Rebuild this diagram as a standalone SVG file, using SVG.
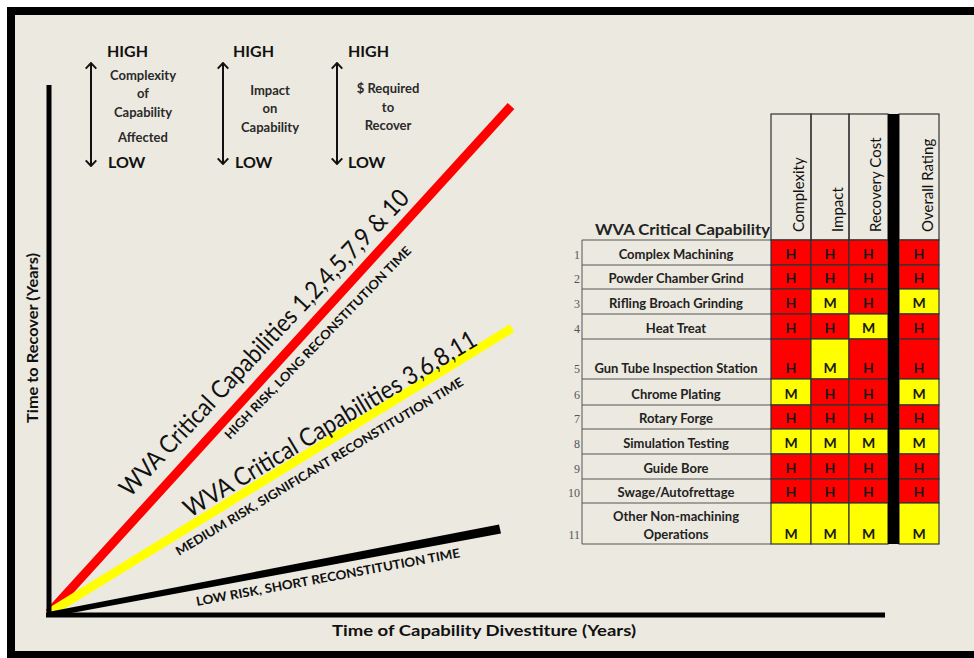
<svg xmlns="http://www.w3.org/2000/svg" width="974" height="658" viewBox="0 0 974 658">
<defs>
<marker id="chev" viewBox="0 0 6 10" refX="5.2" refY="5" markerWidth="8" markerHeight="12" markerUnits="userSpaceOnUse" orient="auto-start-reverse">
<path d="M0.5,0.6 L5.2,5 L0.5,9.4" fill="none" stroke="#111" stroke-width="1.6"/>
</marker>
<style>
.f{font-family:Lato,"Liberation Sans",sans-serif;}
.hl{font-family:Lato,"Liberation Sans",sans-serif;font-weight:bold;font-size:16px;fill:#111;}
.sm{font-family:Lato,"Liberation Sans",sans-serif;font-weight:bold;font-size:13px;fill:#2a2a2a;text-anchor:middle;}
.arr{stroke:#111;stroke-width:2;fill:none;marker-start:url(#chev);marker-end:url(#chev);}
.risk{font-family:Lato,"Liberation Sans",sans-serif;font-weight:bold;font-size:12.5px;fill:#111;}
.big{font-family:Lato,"Liberation Sans",sans-serif;font-size:25px;fill:#111;}
.lbl{font-family:Lato,"Liberation Sans",sans-serif;font-weight:bold;font-size:13px;fill:#222;text-anchor:middle;}
.num{font-family:"Liberation Serif",serif;font-size:12px;fill:#555;text-anchor:end;}
.cell{stroke:#333;stroke-width:1.2;}
.R{fill:#FF0000;}
.Y{fill:#FFFF00;}
.let{font-family:Lato,"Liberation Sans",sans-serif;font-weight:bold;font-size:14px;fill:#1a1a1a;text-anchor:middle;}
.colh{font-family:Lato,"Liberation Sans",sans-serif;font-size:15px;fill:#111;}
.rl{stroke:#555;stroke-width:1;}
</style>
</defs>
<rect width="974" height="658" fill="#fff"/>
<rect x="7" y="7" width="967" height="651" fill="#000"/>
<rect x="15" y="15" width="959" height="636" fill="#ECE9E0"/>

<g id="legend">
<g id="legend-complexity">
<text class="hl" x="107" y="57">HIGH</text>
<line class="arr" x1="91" y1="63" x2="91" y2="166"/>
<text class="sm" x="143" y="80">Complexity</text>
<text class="sm" x="143" y="98">of</text>
<text class="sm" x="143" y="117">Capability</text>
<text class="sm" x="143" y="142">Affected</text>
<text class="hl" x="108" y="168">LOW</text>
</g>
<g id="legend-impact">
<text class="hl" x="233" y="57">HIGH</text>
<line class="arr" x1="223" y1="63" x2="223" y2="164"/>
<text class="sm" x="270" y="95">Impact</text>
<text class="sm" x="270" y="113">on</text>
<text class="sm" x="270" y="132">Capability</text>
<text class="hl" x="235" y="168">LOW</text>
</g>
<g id="legend-cost">
<text class="hl" x="348" y="57">HIGH</text>
<line class="arr" x1="337" y1="63" x2="337" y2="164"/>
<text class="sm" x="388" y="93">$ Required</text>
<text class="sm" x="388" y="112">to</text>
<text class="sm" x="388" y="130">Recover</text>
<text class="hl" x="348" y="168">LOW</text>
</g>
</g>

<g id="chart">
<line x1="49" y1="613" x2="511" y2="106" stroke="#FF0000" stroke-width="9"/>
<line x1="49" y1="613" x2="512" y2="328" stroke="#FFFF00" stroke-width="9"/>
<polygon points="48,612 499,524.5 501,533.5 50,617" fill="#000"/>
<line x1="49" y1="85" x2="49" y2="617" stroke="#000" stroke-width="5"/>
<line x1="46" y1="615" x2="885" y2="615" stroke="#000" stroke-width="5"/>
<text class="f" font-weight="bold" font-size="16" fill="#111" x="484" y="636" text-anchor="middle" textLength="304" lengthAdjust="spacingAndGlyphs">Time of Capability Divestiture (Years)</text>
<text class="f" font-weight="bold" font-size="16" fill="#111" transform="translate(38,338) rotate(-90)" text-anchor="middle" textLength="170" lengthAdjust="spacingAndGlyphs">Time  to  Recover (Years)</text>
<text class="big" transform="translate(130,498) rotate(-46.8)" textLength="410" lengthAdjust="spacingAndGlyphs">WVA Critical Capabilities 1,2,4,5,7,9 &amp; 10</text>
<text class="risk" transform="translate(230,440) rotate(-46)" textLength="262" lengthAdjust="spacingAndGlyphs">HIGH RISK, LONG RECONSTITUTION TIME</text>
<text class="big" transform="translate(190,518) rotate(-31)" textLength="337" lengthAdjust="spacingAndGlyphs">WVA Critical Capabilities 3,6,8,11</text>
<text class="risk" transform="translate(179,556) rotate(-31)" textLength="333" lengthAdjust="spacingAndGlyphs">MEDIUM RISK, SIGNIFICANT RECONSTITUTION TIME</text>
<text class="risk" transform="translate(197,606) rotate(-10.5)" textLength="268" lengthAdjust="spacingAndGlyphs">LOW RISK, SHORT RECONSTITUTION TIME</text>
</g>

<g id="table">
<g id="table-header">
<text class="f" font-weight="bold" font-size="14.5" fill="#222" x="595" y="235" textLength="175" lengthAdjust="spacingAndGlyphs">WVA Critical Capability</text>
<rect x="771" y="114" width="40" height="126" fill="none" class="cell"/>
<rect x="811" y="114" width="38" height="126" fill="none" class="cell"/>
<rect x="849" y="114" width="39" height="126" fill="none" class="cell"/>
<rect x="899" y="114" width="40" height="126" fill="none" class="cell"/>
<text class="colh" transform="translate(804,232) rotate(-90)">Complexity</text>
<text class="colh" transform="translate(843,232) rotate(-90)">Impact</text>
<text class="colh" transform="translate(881,232) rotate(-90)">Recovery Cost</text>
<text class="colh" transform="translate(933,232) rotate(-90)">Overall Rating</text>
</g>

<g id="table-rowlines">
<line class="rl" x1="582" y1="240" x2="582" y2="544"/>
<line class="rl" x1="582" y1="240" x2="771" y2="240"/>
<line class="rl" x1="582" y1="265" x2="771" y2="265"/>
<line class="rl" x1="582" y1="289" x2="771" y2="289"/>
<line class="rl" x1="582" y1="314" x2="771" y2="314"/>
<line class="rl" x1="582" y1="339" x2="771" y2="339"/>
<line class="rl" x1="582" y1="379" x2="771" y2="379"/>
<line class="rl" x1="582" y1="405" x2="771" y2="405"/>
<line class="rl" x1="582" y1="429" x2="771" y2="429"/>
<line class="rl" x1="582" y1="454" x2="771" y2="454"/>
<line class="rl" x1="582" y1="479" x2="771" y2="479"/>
<line class="rl" x1="582" y1="503" x2="771" y2="503"/>
<line class="rl" x1="582" y1="544" x2="771" y2="544"/>
</g>

<g id="row1">
<text class="num" x="580" y="259">1</text><text class="lbl" x="676" y="259">Complex Machining</text>
<rect class="cell R" x="771" y="240" width="40" height="25"/><rect class="cell R" x="811" y="240" width="38" height="25"/><rect class="cell R" x="849" y="240" width="39" height="25"/><rect class="cell R" x="899" y="240" width="40" height="25"/>
<text class="let" x="791" y="259">H</text><text class="let" x="830" y="259">H</text><text class="let" x="868.5" y="259">H</text><text class="let" x="919" y="259">H</text>
</g>
<g id="row2">
<text class="num" x="580" y="283">2</text><text class="lbl" x="676" y="283">Powder Chamber Grind</text>
<rect class="cell R" x="771" y="265" width="40" height="24"/><rect class="cell R" x="811" y="265" width="38" height="24"/><rect class="cell R" x="849" y="265" width="39" height="24"/><rect class="cell R" x="899" y="265" width="40" height="24"/>
<text class="let" x="791" y="283">H</text><text class="let" x="830" y="283">H</text><text class="let" x="868.5" y="283">H</text><text class="let" x="919" y="283">H</text>
</g>
<g id="row3">
<text class="num" x="580" y="308">3</text><text class="lbl" x="676" y="308">Rifling Broach Grinding</text>
<rect class="cell R" x="771" y="289" width="40" height="25"/><rect class="cell Y" x="811" y="289" width="38" height="25"/><rect class="cell R" x="849" y="289" width="39" height="25"/><rect class="cell Y" x="899" y="289" width="40" height="25"/>
<text class="let" x="791" y="308">H</text><text class="let" x="830" y="308">M</text><text class="let" x="868.5" y="308">H</text><text class="let" x="919" y="308">M</text>
</g>
<g id="row4">
<text class="num" x="580" y="333">4</text><text class="lbl" x="676" y="333">Heat Treat</text>
<rect class="cell R" x="771" y="314" width="40" height="25"/><rect class="cell R" x="811" y="314" width="38" height="25"/><rect class="cell Y" x="849" y="314" width="39" height="25"/><rect class="cell R" x="899" y="314" width="40" height="25"/>
<text class="let" x="791" y="333">H</text><text class="let" x="830" y="333">H</text><text class="let" x="868.5" y="333">M</text><text class="let" x="919" y="333">H</text>
</g>
<g id="row5">
<text class="num" x="580" y="373">5</text><text class="lbl" x="676" y="373">Gun Tube Inspection Station</text>
<rect class="cell R" x="771" y="339" width="40" height="40"/><rect class="cell Y" x="811" y="339" width="38" height="40"/><rect class="cell R" x="849" y="339" width="39" height="40"/><rect class="cell R" x="899" y="339" width="40" height="40"/>
<text class="let" x="791" y="373">H</text><text class="let" x="830" y="373">M</text><text class="let" x="868.5" y="373">H</text><text class="let" x="919" y="373">H</text>
</g>
<g id="row6">
<text class="num" x="580" y="399">6</text><text class="lbl" x="676" y="399">Chrome Plating</text>
<rect class="cell Y" x="771" y="379" width="40" height="26"/><rect class="cell R" x="811" y="379" width="38" height="26"/><rect class="cell R" x="849" y="379" width="39" height="26"/><rect class="cell Y" x="899" y="379" width="40" height="26"/>
<text class="let" x="791" y="399">M</text><text class="let" x="830" y="399">H</text><text class="let" x="868.5" y="399">H</text><text class="let" x="919" y="399">M</text>
</g>
<g id="row7">
<text class="num" x="580" y="423">7</text><text class="lbl" x="676" y="423">Rotary Forge</text>
<rect class="cell R" x="771" y="405" width="40" height="24"/><rect class="cell R" x="811" y="405" width="38" height="24"/><rect class="cell R" x="849" y="405" width="39" height="24"/><rect class="cell R" x="899" y="405" width="40" height="24"/>
<text class="let" x="791" y="423">H</text><text class="let" x="830" y="423">H</text><text class="let" x="868.5" y="423">H</text><text class="let" x="919" y="423">H</text>
</g>
<g id="row8">
<text class="num" x="580" y="448">8</text><text class="lbl" x="676" y="448">Simulation Testing</text>
<rect class="cell Y" x="771" y="429" width="40" height="25"/><rect class="cell Y" x="811" y="429" width="38" height="25"/><rect class="cell Y" x="849" y="429" width="39" height="25"/><rect class="cell Y" x="899" y="429" width="40" height="25"/>
<text class="let" x="791" y="448">M</text><text class="let" x="830" y="448">M</text><text class="let" x="868.5" y="448">M</text><text class="let" x="919" y="448">M</text>
</g>
<g id="row9">
<text class="num" x="580" y="473">9</text><text class="lbl" x="676" y="473">Guide Bore</text>
<rect class="cell R" x="771" y="454" width="40" height="25"/><rect class="cell R" x="811" y="454" width="38" height="25"/><rect class="cell R" x="849" y="454" width="39" height="25"/><rect class="cell R" x="899" y="454" width="40" height="25"/>
<text class="let" x="791" y="473">H</text><text class="let" x="830" y="473">H</text><text class="let" x="868.5" y="473">H</text><text class="let" x="919" y="473">H</text>
</g>
<g id="row10">
<text class="num" x="580" y="497">10</text><text class="lbl" x="676" y="497">Swage/Autofrettage</text>
<rect class="cell R" x="771" y="479" width="40" height="24"/><rect class="cell R" x="811" y="479" width="38" height="24"/><rect class="cell R" x="849" y="479" width="39" height="24"/><rect class="cell R" x="899" y="479" width="40" height="24"/>
<text class="let" x="791" y="497">H</text><text class="let" x="830" y="497">H</text><text class="let" x="868.5" y="497">H</text><text class="let" x="919" y="497">H</text>
</g>
<g id="row11">
<text class="num" x="580" y="539">11</text><text class="lbl" x="676" y="521">Other Non-machining</text><text class="lbl" x="676" y="539">Operations</text>
<rect class="cell Y" x="771" y="503" width="40" height="41"/><rect class="cell Y" x="811" y="503" width="38" height="41"/><rect class="cell Y" x="849" y="503" width="39" height="41"/><rect class="cell Y" x="899" y="503" width="40" height="41"/>
<text class="let" x="791" y="539">M</text><text class="let" x="830" y="539">M</text><text class="let" x="868.5" y="539">M</text><text class="let" x="919" y="539">M</text>
</g>
<rect id="divider" x="888" y="114" width="11" height="430" fill="#000"/>
</g>
</svg>
